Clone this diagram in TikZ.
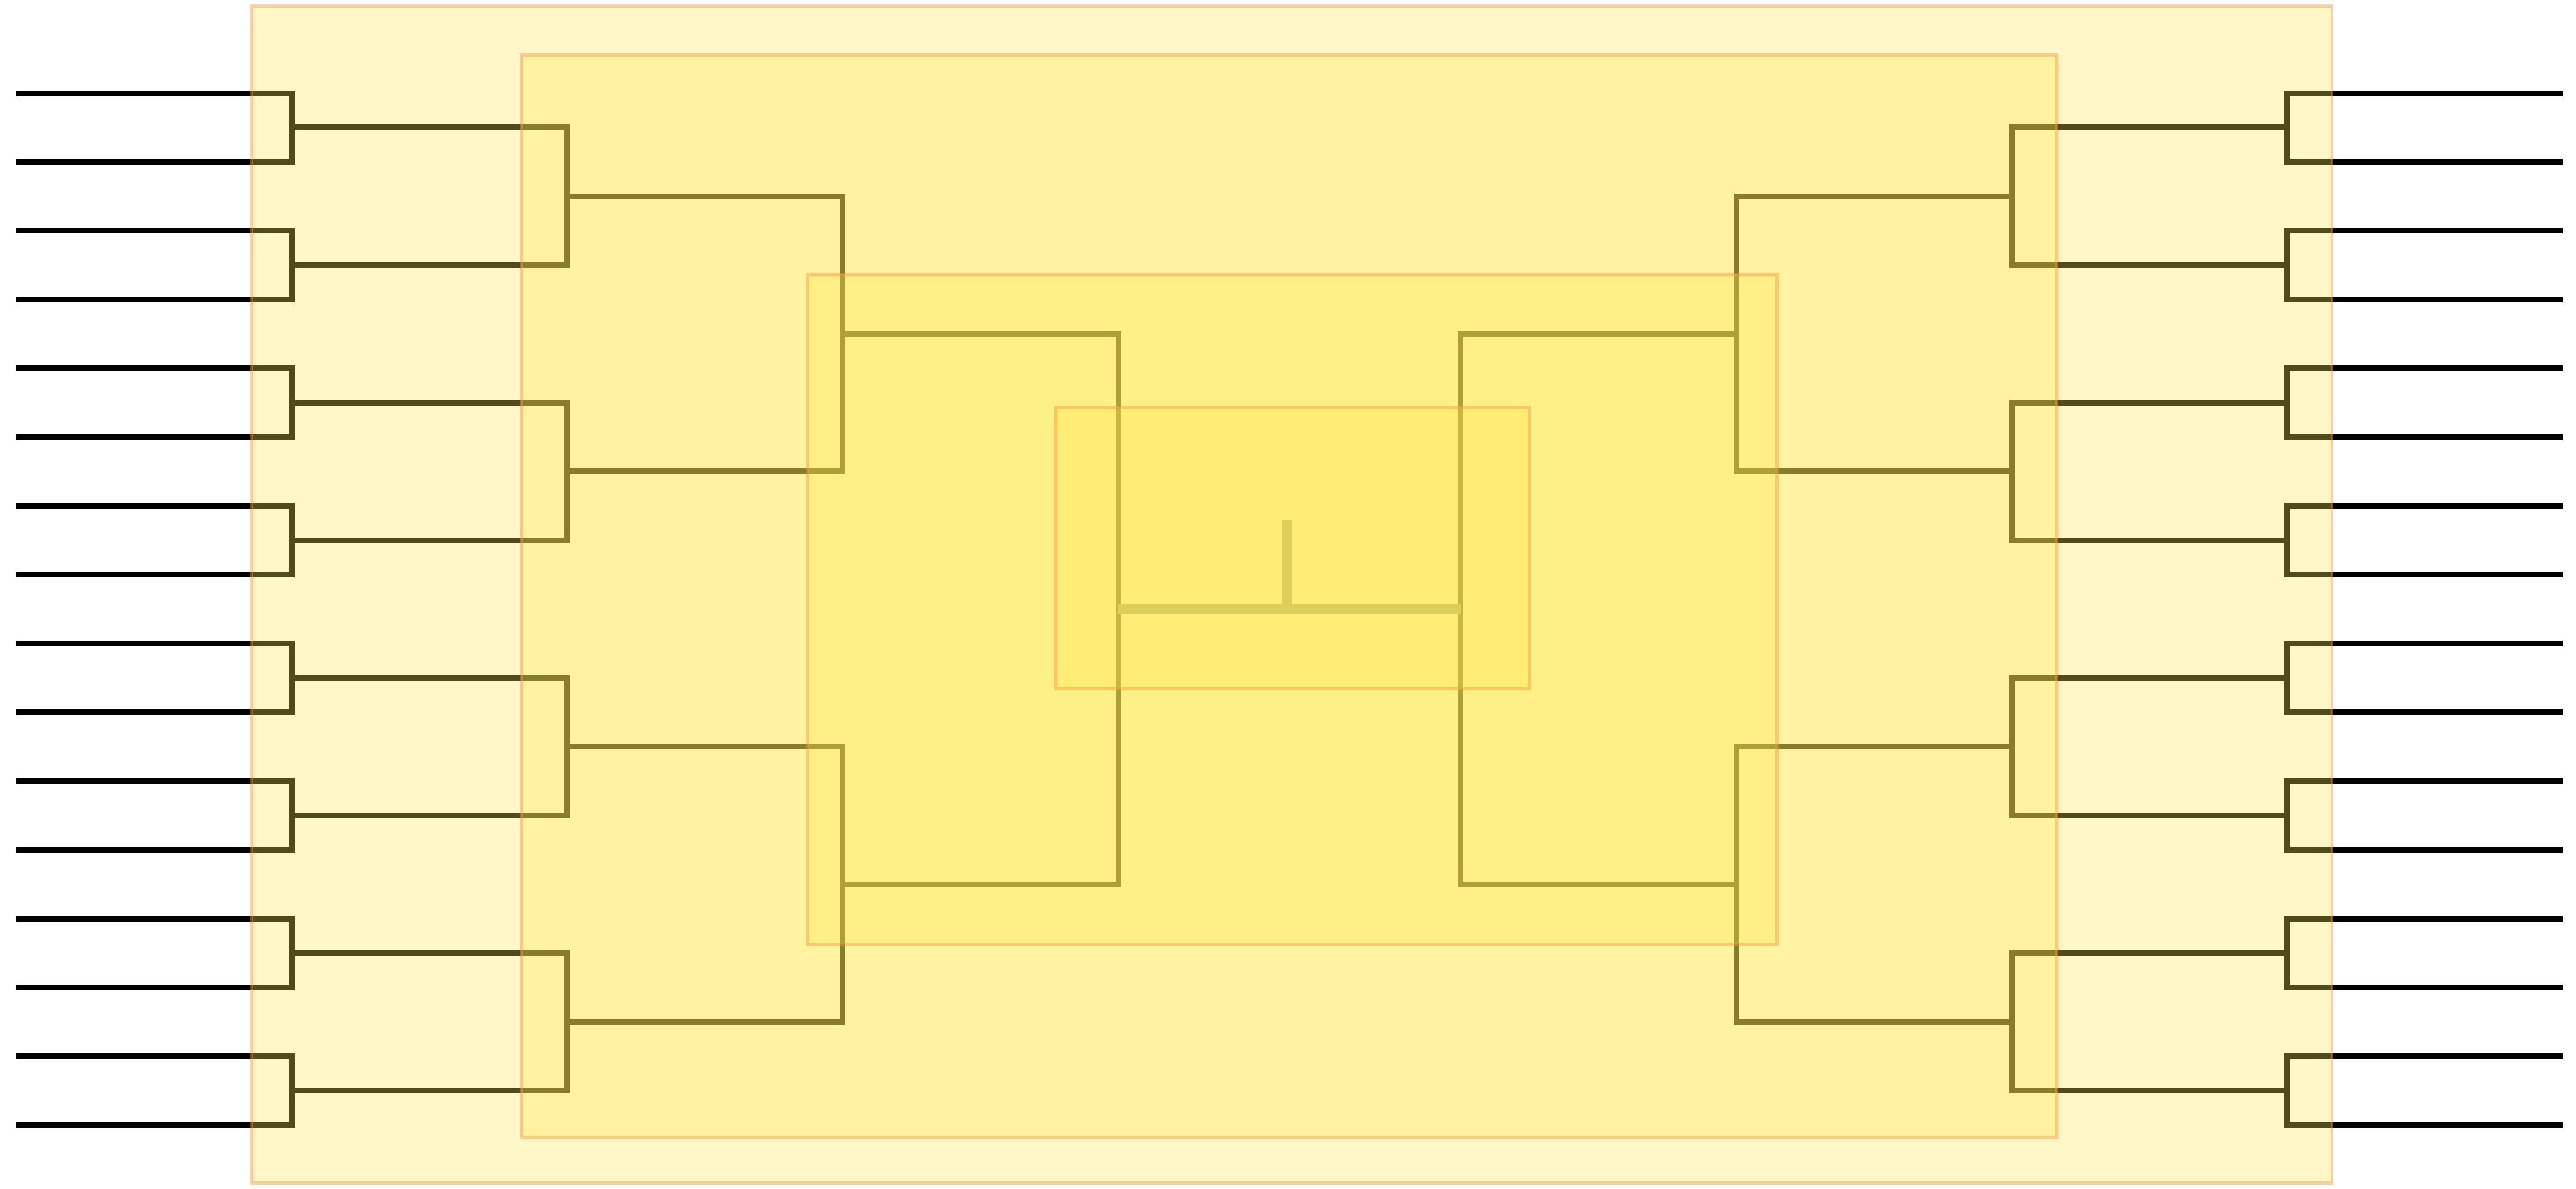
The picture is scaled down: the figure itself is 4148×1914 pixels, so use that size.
\documentclass[tikz,border=0pt]{standalone}
\usepackage{tikz}
\usetikzlibrary{calc}
\definecolor{zonefill}{RGB}{255,233,83}
\definecolor{zoneedge}{RGB}{255,150,60}
\definecolor{finalgold}{RGB}{220,208,90}
\tikzset{
  zone/.style={fill=zonefill, fill opacity=0.32, draw=zoneedge, draw opacity=0.45, line width=0.05cm},
  wire/.style={line width=0.09cm, black},
  finalwire/.style={line width=0.155cm, finalgold}
}

\begin{document}
\begin{tikzpicture}[x=0.01cm,y=-0.01cm]
  \useasboundingbox (0,0) rectangle (4148,1914);
  \fill[white] (0,0) rectangle (4148,1914);

  % Left half
  \foreach \r/\x/\n/\s in {0/26/15/1, 1/470/7/2, 2/913/3/4, 3/1357/1/8, 4/1801/0/16} {
    \foreach \j in {0,...,\n} {
      \coordinate (a\r-\j) at (\x,{150+110.8*(\s*\j+(\s-1)/2)});
    }
  }
  % Right half
  \foreach \r/\x/\n/\s in {0/4127/15/1, 1/3683/7/2, 2/3240/3/4, 3/2796/1/8, 4/2352/0/16} {
    \foreach \j in {0,...,\n} {
      \coordinate (b\r-\j) at (\x,{150+110.8*(\s*\j+(\s-1)/2)});
    }
  }

  % Brackets
  \foreach \r/\n in {1/7, 2/3, 3/1, 4/0} {
    \pgfmathtruncatemacro\p{\r-1}
    \foreach \j in {0,...,\n} {
      \pgfmathtruncatemacro\a{2*\j}
      \pgfmathtruncatemacro\b{2*\j+1}
      \draw[wire] (a\p-\a) -| (a\r-\j);
      \draw[wire] (a\p-\b) -| (a\r-\j);
      \draw[wire] (b\p-\a) -| (b\r-\j);
      \draw[wire] (b\p-\b) -| (b\r-\j);
    }
  }

  % Rounds
  \draw[zone] (406,10) rectangle (3755,1905);
  \draw[zone] (840,89) rectangle (3312,1831);
  \draw[zone] (1300,442) rectangle (2861,1521);
  \draw[zone] (1700,656) rectangle (2462,1109);

  % Final
  \coordinate (champ) at (2072,837);
  \draw[finalwire] (a4-0) -- (b4-0);
  \draw[finalwire] (champ) -- (champ |- a4-0);
\end{tikzpicture}
\end{document}
